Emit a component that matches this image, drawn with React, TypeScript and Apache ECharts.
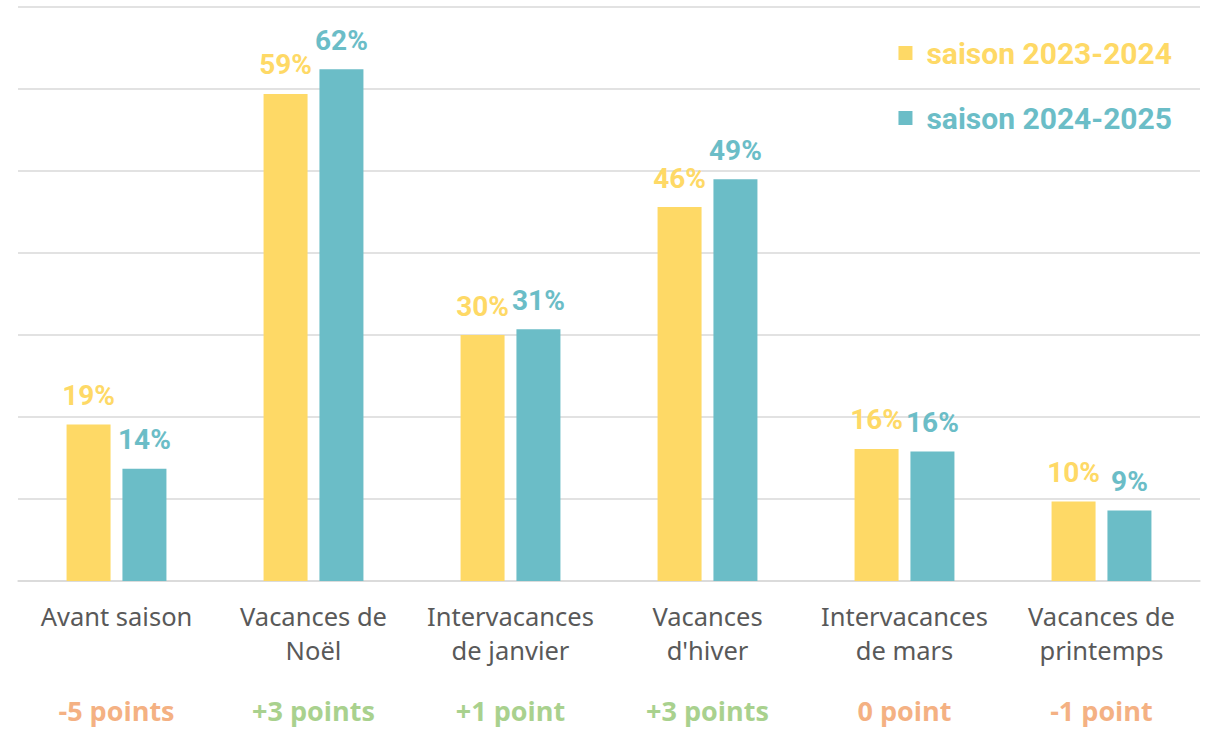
import React, { useEffect, useRef } from "react";
import * as echarts from "echarts";

const categories = [
  "Avant saison",
  "Vacances de\nNoël",
  "Intervacances\nde janvier",
  "Vacances\nd'hiver",
  "Intervacances\nde mars",
  "Vacances de\nprintemps",
];
const season2324 = [19.1, 59.4, 30.0, 45.6, 16.1, 9.7];
const season2425 = [13.7, 62.4, 30.7, 49.0, 15.8, 8.6];
const changes = ["-5 points", "+3 points", "+1 point", "+3 points", "0 point", "-1 point"];
const seriesNames = ["saison 2023-2024", "saison 2024-2025"];
const yTicks = { min: 0, max: 70, interval: 10 };

const YELLOW = "#FED966";
const TEAL = "#6BBDC7";

export default function App() {
  const ref = useRef<HTMLDivElement>(null);
  useEffect(() => {
    if (!ref.current) return;
    const chart = echarts.init(ref.current, undefined, { renderer: "svg" });
    const labelStyle = (color: string) => ({
      show: true,
      position: "top",
      distance: 15,
      color,
      fontFamily: "Roboto",
      fontWeight: "bold",
      fontSize: 28,
      formatter: (p: any) => Math.round(p.value) + "%",
    });
    const legendText = (color: string) => ({
      color,
      fontFamily: "Roboto",
      fontWeight: "bold",
      fontSize: 30,
      padding: [0, 0, 0, 9],
    });
    const changeStyle = (color: string) => ({
      color,
      fontFamily: "Open Sans",
      fontWeight: "bold",
      fontSize: 27,
      lineHeight: 24,
    });
    chart.setOption({
      animation: false,
      grid: { left: 18, right: 7, top: 7, bottom: 150, containLabel: false },
      legend: {
        orient: "vertical",
        right: 30,
        top: 33,
        icon: "rect",
        itemWidth: 14,
        itemHeight: 14,
        itemGap: 35,
        data: [
          { name: seriesNames[0], textStyle: legendText(YELLOW) },
          { name: seriesNames[1], textStyle: legendText(TEAL) },
        ],
      },
      xAxis: [
        {
          type: "category",
          data: categories,
          axisLine: { lineStyle: { color: "#D9D9D9", width: 1.5 } },
          axisTick: { show: false },
          axisLabel: {
            color: "#595959",
            fontFamily: "Noto Sans",
            fontSize: 25.5,
            lineHeight: 34,
            margin: 18,
            interval: 0,
          },
        },
        {
          type: "category",
          position: "bottom",
          data: changes,
          axisLine: { show: false },
          axisTick: { show: false },
          axisLabel: {
            interval: 0,
            margin: 117,
            lineHeight: 24,
            formatter: (v: string) => (v.startsWith("+") ? "{pos|" + v + "}" : "{neg|" + v + "}"),
            rich: {
              pos: changeStyle("#A9D18E"),
              neg: changeStyle("#F4B183"),
            },
          },
        },
      ],
      yAxis: {
        type: "value",
        min: yTicks.min,
        max: yTicks.max,
        interval: yTicks.interval,
        axisLabel: { show: false },
        axisLine: { show: false },
        axisTick: { show: false },
        splitLine: { lineStyle: { color: "#D9D9D9", width: 1.5 } },
      },
      series: [
        {
          name: seriesNames[0],
          type: "bar",
          data: season2324,
          barWidth: 44,
          barGap: "27%",
          itemStyle: { color: YELLOW },
          label: labelStyle(YELLOW),
        },
        {
          name: seriesNames[1],
          type: "bar",
          data: season2425,
          barWidth: 44,
          barGap: "27%",
          itemStyle: { color: TEAL },
          label: labelStyle(TEAL),
        },
      ],
    });
    return () => chart.dispose();
  }, []);
  return (
    <div
      ref={ref}
      style={{ position: "fixed", left: 0, top: 0, width: 1207, height: 731, background: "#fff" }}
    />
  );
}
